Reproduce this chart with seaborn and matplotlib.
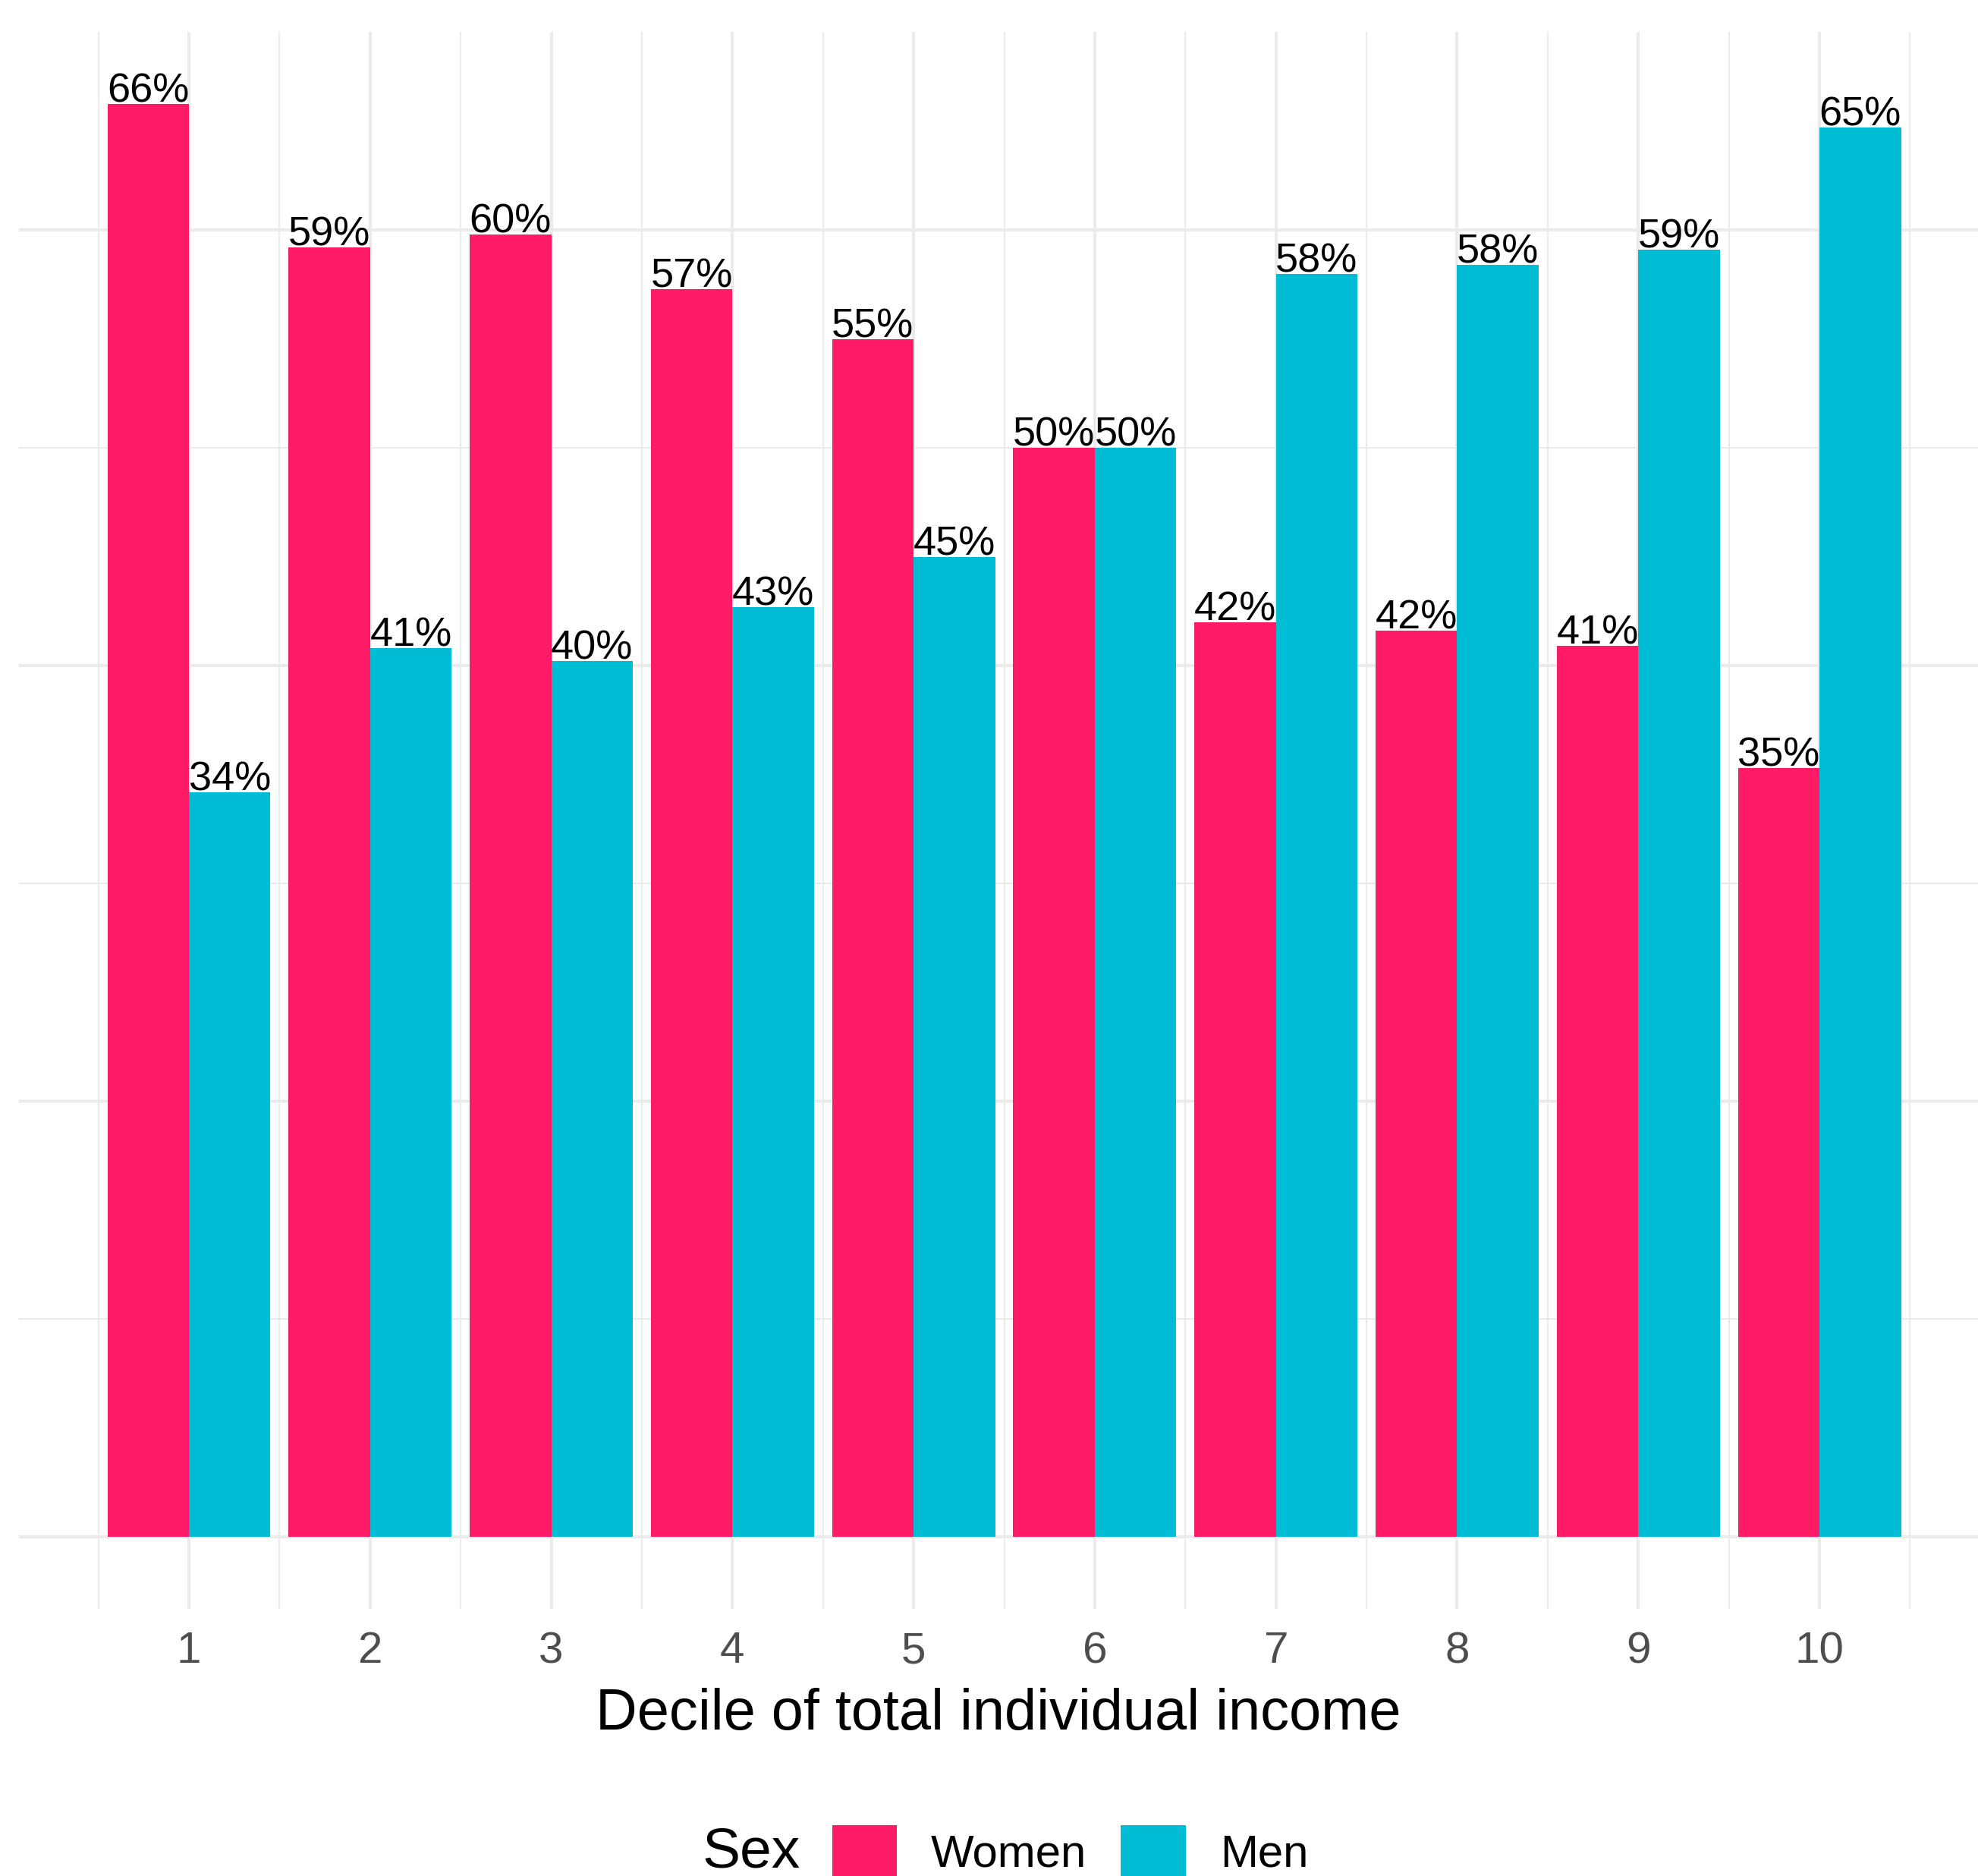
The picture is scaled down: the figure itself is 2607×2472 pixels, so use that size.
import pandas as pd
import matplotlib.pyplot as plt
import seaborn as sns

# Share of each income decile by sex (%)
deciles = ['1', '2', '3', '4', '5', '6', '7', '8', '9', '10']
women = [65.8, 59.2, 59.8, 57.3, 55.0, 50.0, 42.0, 41.6, 40.9, 35.3]
men = [34.2, 40.8, 40.2, 42.7, 45.0, 50.0, 58.0, 58.4, 59.1, 64.7]
sexes = ['Women', 'Men']
colors = {'Women': '#FF1A66', 'Men': '#00BCD4'}

df = pd.DataFrame({
    'decile': deciles * 2,
    'share': women + men,
    'sex': ['Women'] * len(deciles) + ['Men'] * len(deciles),
})

sns.set_theme(style='white')
plt.rcParams['font.family'] = ['Liberation Sans', 'DejaVu Sans']
plt.rcParams['text.color'] = 'black'
plt.rcParams['axes.labelcolor'] = 'black'

fig = plt.figure(figsize=(2607 / 300, 2472 / 300), dpi=300)
ax = fig.add_axes([25 / 2607, 1 - 2120 / 2472, 1 - 25 / 2607, (2120 - 42) / 2472])

sns.barplot(data=df, x='decile', y='share', hue='sex', order=deciles,
            hue_order=sexes, palette=colors, width=0.9, saturation=1,
            linewidth=0, legend=False, ax=ax)

# percentage labels sitting on the bars
for cont in ax.containers:
    for bar in cont:
        h = bar.get_height()
        ax.annotate(f'{h:.0f}%', (bar.get_x() + bar.get_width() / 2, h),
                    xytext=(0, 0.6), textcoords='offset points',
                    ha='center', va='baseline', fontsize=13, color='black')

ax.set_xlim(-0.938, 9.875)
ax.set_ylim(-3.3, 69.1)
ax.set_yticks([0, 20, 40, 60])
ax.set_yticks([10, 30, 50], minor=True)
ax.set_xticks(range(len(deciles)))
ax.set_xticks([i - 0.5 for i in range(len(deciles) + 1)], minor=True)
ax.set_xticklabels(deciles)
ax.set_yticklabels([])
ax.grid(which='major', color='#EBEBEB', linewidth=1.0)
ax.grid(which='minor', color='#EBEBEB', linewidth=0.5)
ax.set_axisbelow(True)
for s in ax.spines.values():
    s.set_visible(False)
ax.tick_params(which='both', length=0)
ax.tick_params(axis='x', labelsize=14, labelcolor='#4D4D4D', pad=7)
ax.set_xlabel('Decile of total individual income', fontsize=18.2, labelpad=5, color='black')
ax.set_ylabel('')

# legend at the bottom, ggplot style with title on the left
handles = [plt.Rectangle((0, 0), 1, 1, facecolor=colors[s], edgecolor='none') for s in sexes]
fig.legend(handles, sexes, loc='center left', bbox_to_anchor=(1097 / 2607, 1 - 2440 / 2472),
           ncol=2, frameon=False, fontsize=14.4, handlelength=1.42, handleheight=1.42,
           handletextpad=0.75, columnspacing=0.75, borderpad=0, borderaxespad=0,
           labelcolor='black')
fig.text(926 / 2607, 1 - 2441 / 2472, 'Sex', fontsize=18, ha='left', va='center', color='black')

plt.savefig('out.png', dpi=300)
